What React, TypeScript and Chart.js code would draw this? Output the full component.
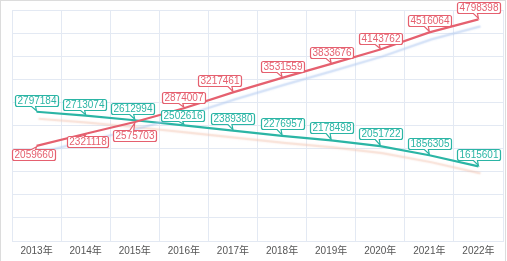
import React, { useEffect, useRef } from "react";
import { Chart, registerables } from "chart.js";

Chart.register(...registerables);

const years = ["2013年", "2014年", "2015年", "2016年", "2017年", "2018年", "2019年", "2020年", "2021年", "2022年"];
const redValues = [2059660, 2321118, 2575703, 2874007, 3217461, 3531559, 3833676, 4143762, 4516064, 4798398];
const tealValues = [2797184, 2713074, 2612994, 2502616, 2389380, 2276957, 2178498, 2051722, 1856305, 1615601];

const RED = "#e5606f";
const TEAL = "#2bb5a5";

// label layout styling (per dataset): placement and horizontal nudge
const labelStyle: Record<number, { below: boolean[]; shift: number[]; gap: number[] }> = {
  0: {
    below: [true, true, true, false, false, false, false, false, false, false],
    shift: [-3, 2, 0, 0, -13, 0, 0, 0, 0, 0],
    gap: [3, 2, 8, 5, 6, 6, 6, 6, 6, 6],
  },
  1: {
    below: [false, false, false, false, false, false, false, false, false, false],
    shift: [0, -1, -2, -1, 0, 0, 0, 0, 0, 0],
    gap: [6, 6, 6, 4, 7, 7, 7, 7, 6, 6],
  },
};

const shadowPlugin = {
  id: "lineShadow",
  beforeDatasetDraw(chart: any, args: any) {
    const ds = chart.data.datasets[args.index];
    const ctx = chart.ctx;
    ctx.save();
    ctx.shadowColor = ds.shadowColor;
    ctx.shadowOffsetX = 2;
    ctx.shadowOffsetY = 7;
    ctx.shadowBlur = 1.5;
  },
  afterDatasetDraw(chart: any) {
    chart.ctx.restore();
  },
};

const calloutPlugin = {
  id: "callouts",
  afterDatasetsDraw(chart: any) {
    const ctx = chart.ctx;
    ctx.save();
    ctx.font = "10px 'Liberation Sans', Arial, sans-serif";
    ctx.textAlign = "center";
    ctx.textBaseline = "middle";
    chart.data.datasets.forEach((ds: any, di: number) => {
      const meta = chart.getDatasetMeta(di);
      const st = labelStyle[di];
      meta.data.forEach((pt: any, i: number) => {
        const text = String(ds.data[i]);
        const px = pt.x;
        const py = pt.y;
        const w = Math.round(ctx.measureText(text).width) + 4;
        const h = 11;
        const cx = px + st.shift[i];
        const x0 = Math.round(cx - w / 2) + 0.5;
        const x1 = x0 + w;
        let y0: number, y1: number;
        const below = st.below[i];
        if (below) {
          y0 = Math.round(py + st.gap[i]) + 0.5;
          y1 = y0 + h;
        } else {
          y1 = Math.round(py - st.gap[i]) + 0.5;
          y0 = y1 - h;
        }
        const r = 2;
        const bx = Math.min(Math.max(px, x0 + 6), x1 - 2);
        const b1 = bx - 5;
        const b2 = bx - 1;
        ctx.beginPath();
        ctx.moveTo(x0 + r, y0);
        if (below) {
          ctx.lineTo(b1, y0);
          ctx.lineTo(px, py + 1);
          ctx.lineTo(b2, y0);
        }
        ctx.lineTo(x1 - r, y0);
        ctx.arcTo(x1, y0, x1, y0 + r, r);
        ctx.lineTo(x1, y1 - r);
        ctx.arcTo(x1, y1, x1 - r, y1, r);
        if (!below) {
          ctx.lineTo(b2, y1);
          ctx.lineTo(px, py - 1);
          ctx.lineTo(b1, y1);
        }
        ctx.lineTo(x0 + r, y1);
        ctx.arcTo(x0, y1, x0, y1 - r, r);
        ctx.lineTo(x0, y0 + r);
        ctx.arcTo(x0, y0, x0 + r, y0, r);
        ctx.closePath();
        ctx.fillStyle = "#ffffff";
        ctx.fill();
        ctx.lineWidth = 1.2;
        ctx.strokeStyle = ds.borderColor;
        ctx.stroke();
        ctx.fillStyle = ds.borderColor;
        ctx.fillText(text, (x0 + x1) / 2, (y0 + y1) / 2 + 0.5);
      });
    });
    ctx.restore();
  },
};

export default function App() {
  const ref = useRef<HTMLCanvasElement>(null);
  useEffect(() => {
    const gridColor = "#e3e9f3";
    const chart = new Chart(ref.current!, {
      type: "line",
      data: {
        labels: years,
        datasets: [
          {
            label: "red",
            data: redValues,
            borderColor: RED,
            borderWidth: 2.2,
            pointRadius: 0,
            tension: 0,
            fill: false,
            shadowColor: "rgba(175,200,240,0.6)",
          } as any,
          {
            label: "teal",
            data: tealValues,
            borderColor: TEAL,
            borderWidth: 2.2,
            pointRadius: 0,
            tension: 0,
            fill: false,
            shadowColor: "rgba(242,195,175,0.55)",
          } as any,
        ],
      },
      options: {
        animation: false,
        responsive: false,
        devicePixelRatio: 1,
        layout: { padding: { left: 12, right: 4, top: 10, bottom: 0 } },
        plugins: { legend: { display: false }, tooltip: { enabled: false } },
        scales: {
          x: {
            offset: true,
            grid: { offset: true, color: gridColor, drawTicks: false },
            border: { display: true, color: gridColor },
            ticks: {
              padding: 4,
              color: "#555",
              font: { size: 10, family: "'Liberation Sans', 'Noto Sans CJK SC', sans-serif" },
              maxRotation: 0,
              autoSkip: false,
            },
          },
          y: {
            min: 0,
            max: 5000000,
            grid: { color: gridColor, drawTicks: false },
            border: { display: false },
            ticks: { display: false, stepSize: 500000 },
          },
        },
      },
      plugins: [shadowPlugin, calloutPlugin],
    });
    return () => chart.destroy();
  }, []);
  return (
    <div style={{ position: "absolute", left: 0, top: 0, width: 507, height: 261, background: "#fff" }}>
      <canvas ref={ref} width={507} height={261} style={{ position: "absolute", left: 0, top: 0 }} />
      <div
        style={{
          position: "absolute",
          left: 0,
          top: 0,
          width: 506,
          height: 262,
          boxSizing: "border-box",
          border: "1px solid #dcdcdc",
          pointerEvents: "none",
        }}
      />
    </div>
  );
}
